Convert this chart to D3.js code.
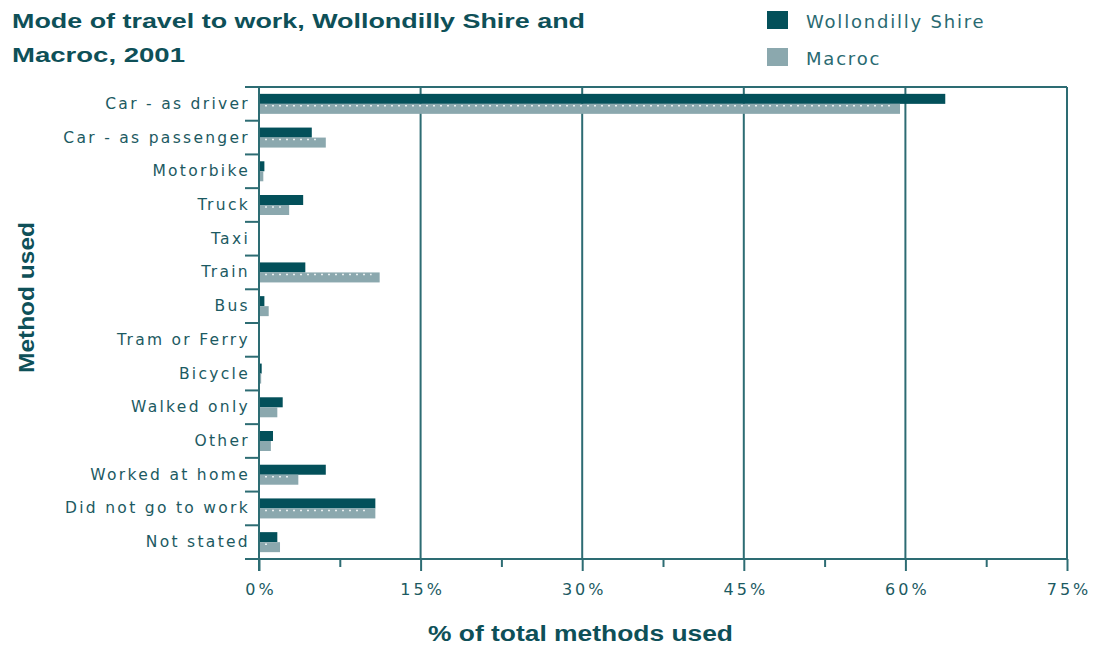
<!DOCTYPE html>
<html>
<head>
<meta charset="utf-8">
<script src="https://cdn.jsdelivr.net/npm/d3@7"></script>
<style>
  body { margin: 0; background: #fff; }
  svg { display: block; }
</style>
</head>
<body>
<div id="chart"></div>
<script>
// chart data
var categories = ["Car - as driver", "Car - as passenger", "Motorbike", "Truck", "Taxi", "Train", "Bus",
  "Tram or Ferry", "Bicycle", "Walked only", "Other", "Worked at home", "Did not go to work", "Not stated"];
var wollondilly = [63.7, 4.9, 0.5, 4.1, 0, 4.3, 0.5, 0, 0.25, 2.2, 1.3, 6.2, 10.8, 1.7];
var macroc = [59.5, 6.2, 0.4, 2.8, 0, 11.2, 0.9, 0, 0.2, 1.7, 1.1, 3.65, 10.8, 1.95];
var xTicks = [0, 15, 30, 45, 60, 75];
var seriesNames = ["Wollondilly Shire", "Macroc"];

var svgWidth = 1097, svgHeight = 646;
var margin = { top: 87, left: 259, right: 30, bottom: 87 };
var width = svgWidth - margin.left - margin.right;   // 808
var height = svgHeight - margin.top - margin.bottom; // 472

var darkColor = "#03505a";
var lightColor = "#8ba8ae";
var lineColor = "#2d6c73";
var textColor = "#1c5a62";
var titleFont = "'Liberation Sans', Arial, sans-serif";

var svg = d3.select("#chart").append("svg")
  .attr("width", svgWidth)
  .attr("height", svgHeight);

var chartGroup = svg.append("g")
  .attr("transform", `translate(${margin.left}, ${margin.top})`);

var xScale = d3.scaleLinear().domain([0, 75]).range([0, width]);
var yScale = d3.scaleBand().domain(categories).range([0, height]);
var inner = d3.scaleBand().domain(seriesNames).range([yScale.bandwidth() / 2 - 10, yScale.bandwidth() / 2 + 10]);

// gridlines
chartGroup.selectAll(".grid")
  .data(xTicks.slice(1))
  .enter()
  .append("line")
  .attr("x1", d => xScale(d))
  .attr("x2", d => xScale(d))
  .attr("y1", 0)
  .attr("y2", height)
  .attr("stroke", lineColor)
  .attr("stroke-width", 2);

// top frame line
chartGroup.append("line")
  .attr("x1", -14).attr("x2", width)
  .attr("y1", 0).attr("y2", 0)
  .attr("stroke", lineColor).attr("stroke-width", 2);

// bars
var groups = chartGroup.selectAll(".cat")
  .data(categories)
  .enter()
  .append("g")
  .attr("transform", d => `translate(0, ${yScale(d)})`);

groups.append("rect")
  .attr("x", 0)
  .attr("y", inner("Wollondilly Shire"))
  .attr("width", (d, i) => xScale(wollondilly[i]))
  .attr("height", inner.bandwidth())
  .attr("fill", darkColor);

groups.append("rect")
  .attr("x", 0)
  .attr("y", inner("Macroc"))
  .attr("width", (d, i) => xScale(macroc[i]))
  .attr("height", inner.bandwidth())
  .attr("fill", lightColor);

// dotted line through the light bars
groups.filter((d, i) => xScale(macroc[i]) > 20)
  .append("line")
  .attr("x1", 6)
  .attr("x2", d => xScale(macroc[categories.indexOf(d)]) - 8)
  .attr("y1", inner("Macroc") + 2)
  .attr("y2", inner("Macroc") + 2)
  .attr("stroke", "#e8eef0")
  .attr("stroke-width", 1.5)
  .attr("stroke-dasharray", "2,5");

// y axis
var yAxis = d3.axisLeft(yScale).tickSize(0).tickPadding(9);
var yAxisG = chartGroup.append("g").call(yAxis);
yAxisG.select(".domain").remove();
yAxisG.selectAll("text")
  .attr("font-family", "'DejaVu Sans', sans-serif")
  .attr("font-size", "15.5px")
  .attr("letter-spacing", "2.3px")
  .attr("fill", textColor);

// category separator ticks
chartGroup.selectAll(".sep")
  .data(categories.slice(1))
  .enter()
  .append("line")
  .attr("x1", -14).attr("x2", 0)
  .attr("y1", d => yScale(d)).attr("y2", d => yScale(d))
  .attr("stroke", lineColor).attr("stroke-width", 2);

chartGroup.append("line")
  .attr("x1", 0).attr("x2", 0)
  .attr("y1", 0).attr("y2", height + 12)
  .attr("stroke", lineColor).attr("stroke-width", 2);

// x axis
var xAxis = d3.axisBottom(xScale)
  .tickValues(d3.range(0, 76, 7.5))
  .tickSize(8)
  .tickFormat(d => xTicks.includes(d) ? d + "%" : "");
var xAxisG = chartGroup.append("g")
  .attr("transform", `translate(0, ${height})`)
  .call(xAxis);
xAxisG.select(".domain").remove();
xAxisG.selectAll("line")
  .attr("stroke", lineColor)
  .attr("stroke-width", 2)
  .attr("y2", d => xTicks.includes(d) ? 12 : 8);
xAxisG.selectAll("text")
  .attr("y", 36)
  .attr("dy", 0)
  .attr("dx", 1.5)
  .attr("font-family", "'DejaVu Sans', sans-serif")
  .attr("font-size", "16px")
  .attr("letter-spacing", "3px")
  .attr("fill", textColor);

chartGroup.append("line")
  .attr("x1", -14).attr("x2", width)
  .attr("y1", height).attr("y2", height)
  .attr("stroke", lineColor).attr("stroke-width", 2);

// axis titles
svg.append("text")
  .attr("x", 428)
  .attr("y", 641)
  .attr("textLength", 305)
  .attr("lengthAdjust", "spacingAndGlyphs")
  .attr("font-family", titleFont)
  .attr("font-weight", "bold")
  .attr("font-size", "22px")
  .attr("fill", "#0e5058")
  .text("% of total methods used");

svg.append("text")
  .attr("transform", "translate(34, 373) rotate(-90)")
  .attr("textLength", 151)
  .attr("lengthAdjust", "spacingAndGlyphs")
  .attr("font-family", titleFont)
  .attr("font-weight", "bold")
  .attr("font-size", "22px")
  .attr("fill", "#0e5058")
  .text("Method used");

// title
svg.append("text")
  .attr("x", 12).attr("y", 28)
  .attr("textLength", 573)
  .attr("lengthAdjust", "spacingAndGlyphs")
  .attr("font-family", titleFont)
  .attr("font-weight", "bold")
  .attr("font-size", "20px")
  .attr("fill", "#0e5058")
  .text("Mode of travel to work,  Wollondilly Shire and");
svg.append("text")
  .attr("x", 12).attr("y", 62)
  .attr("textLength", 173)
  .attr("lengthAdjust", "spacingAndGlyphs")
  .attr("font-family", titleFont)
  .attr("font-weight", "bold")
  .attr("font-size", "20px")
  .attr("fill", "#0e5058")
  .text("Macroc, 2001");

// legend
var legend = svg.selectAll(".legend")
  .data(seriesNames)
  .enter()
  .append("g")
  .attr("transform", (d, i) => `translate(767, ${11 + i * 37})`);

legend.append("rect")
  .attr("width", 21)
  .attr("height", 18)
  .attr("fill", (d, i) => i === 0 ? darkColor : lightColor);

legend.append("text")
  .attr("x", 39)
  .attr("y", 17)
  .attr("font-family", "'DejaVu Sans', sans-serif")
  .attr("font-size", "18px")
  .attr("letter-spacing", "1.8px")
  .attr("fill", "#2a6a71")
  .text(d => d);
</script>
</body>
</html>
